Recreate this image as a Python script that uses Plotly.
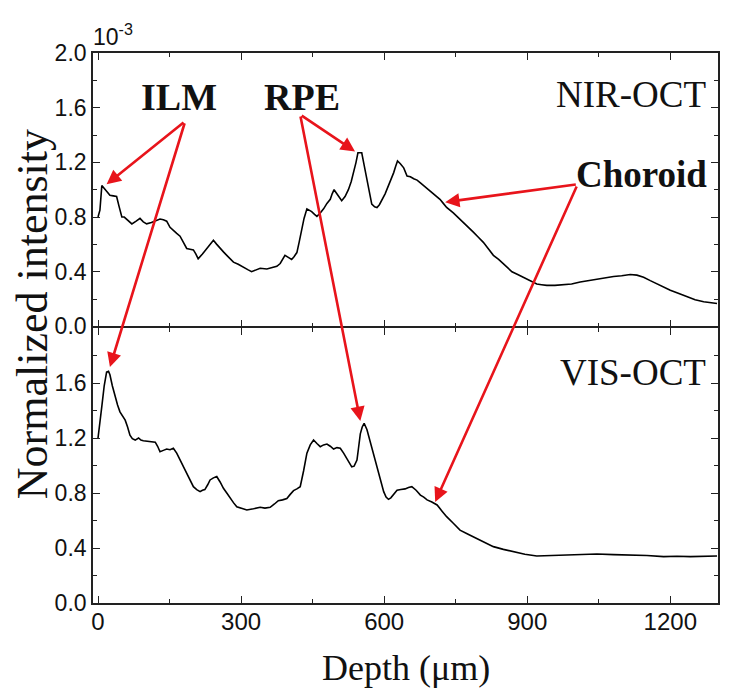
import plotly.graph_objects as go


# depth axis (um) and intensities (x1e-3)
NIR_DEPTH = [
	0, 4, 8, 13, 18, 25, 32, 39, 44, 50, 55, 60, 66, 71, 80, 88, 95, 102, 112, 122,
	130, 137, 144, 151, 158, 165, 172, 179, 186, 193, 200, 205, 210, 219, 228, 235,
	242, 249, 256, 263, 270, 277, 284, 294, 305, 314, 322, 331, 340, 354, 368, 375,
	382, 387, 392, 399, 406, 411, 417, 422, 427, 432, 438, 443, 448, 454, 459, 466,
	473, 480, 487, 491, 495, 503, 511, 518, 525, 531, 536, 541, 545, 549, 553, 558,
	564, 569, 574, 580, 585, 590, 595, 602, 609, 615, 620, 624, 628, 634, 641, 648,
	655, 662, 669, 676, 686, 696, 706, 717, 724, 731, 745, 759, 773, 787, 798, 808,
	818, 829, 840, 850, 859, 868, 880, 892, 906, 920, 930, 941, 958, 976, 993, 1011,
	1028, 1046, 1063, 1081, 1098, 1116, 1130, 1144, 1158, 1172, 1186, 1200, 1218,
	1235, 1252, 1270, 1284, 1298,
]
NIR_INTENSITY = [
	0.80, 0.85, 1.03, 1.01, 0.99, 0.96, 0.955, 0.95, 0.88, 0.80, 0.80, 0.785, 0.77,
	0.75, 0.77, 0.79, 0.765, 0.75, 0.76, 0.775, 0.785, 0.78, 0.77, 0.725, 0.70, 0.68,
	0.66, 0.62, 0.57, 0.565, 0.56, 0.53, 0.495, 0.53, 0.57, 0.60, 0.63, 0.60, 0.57,
	0.545, 0.52, 0.495, 0.47, 0.455, 0.43, 0.415, 0.40, 0.41, 0.425, 0.42, 0.43, 0.44,
	0.46, 0.49, 0.52, 0.505, 0.49, 0.51, 0.54, 0.62, 0.71, 0.79, 0.86, 0.85, 0.84,
	0.82, 0.805, 0.83, 0.86, 0.90, 0.93, 0.97, 1.00, 0.96, 0.92, 0.95, 1.00, 1.06,
	1.125, 1.20, 1.27, 1.27, 1.27, 1.18, 1.08, 0.98, 0.895, 0.875, 0.87, 0.89, 0.92,
	0.97, 1.03, 1.08, 1.125, 1.17, 1.21, 1.19, 1.16, 1.10, 1.095, 1.08, 1.07, 1.05,
	1.02, 0.99, 0.96, 0.93, 0.90, 0.87, 0.83, 0.785, 0.74, 0.69, 0.65, 0.615, 0.57,
	0.52, 0.49, 0.46, 0.43, 0.40, 0.38, 0.36, 0.335, 0.31, 0.305, 0.30, 0.30, 0.305,
	0.31, 0.325, 0.335, 0.35, 0.355, 0.365, 0.37, 0.38, 0.375, 0.36, 0.335, 0.31,
	0.29, 0.265, 0.24, 0.215, 0.195, 0.18, 0.172, 0.167,
]

VIS_DEPTH = [
	0, 4, 8, 13, 18, 22, 25, 30, 36, 41, 46, 52, 57, 62, 67, 72, 78, 85, 90, 95, 108,
	120, 125, 130, 137, 144, 151, 158, 165, 172, 179, 186, 193, 200, 207, 214, 219,
	224, 230, 235, 242, 249, 256, 263, 270, 277, 284, 291, 302, 312, 326, 340, 350,
	361, 370, 378, 387, 396, 403, 410, 417, 424, 431, 438, 445, 452, 459, 466, 473,
	480, 487, 494, 501, 508, 515, 522, 527, 532, 537, 543, 546, 550, 554, 558, 564,
	570, 577, 585, 592, 599, 604, 609, 614, 619, 627, 635, 644, 651, 658, 667, 676,
	683, 690, 700, 711, 721, 731, 745, 759, 776, 794, 811, 829, 850, 871, 895, 920,
	948, 976, 1011, 1046, 1081, 1116, 1151, 1186, 1214, 1242, 1270, 1298,
]
VIS_INTENSITY = [
	1.20, 1.30, 1.43, 1.58, 1.68, 1.685, 1.66, 1.58, 1.50, 1.44, 1.39, 1.36, 1.33,
	1.28, 1.22, 1.195, 1.185, 1.20, 1.185, 1.18, 1.175, 1.17, 1.14, 1.10, 1.11, 1.12,
	1.115, 1.125, 1.09, 1.04, 0.99, 0.94, 0.89, 0.846, 0.825, 0.81, 0.82, 0.825, 0.86,
	0.895, 0.91, 0.92, 0.88, 0.834, 0.80, 0.76, 0.73, 0.70, 0.685, 0.676, 0.685,
	0.696, 0.69, 0.696, 0.72, 0.744, 0.75, 0.76, 0.79, 0.817, 0.83, 0.846, 0.96, 1.09,
	1.15, 1.185, 1.16, 1.137, 1.15, 1.156, 1.14, 1.12, 1.13, 1.125, 1.09, 1.05, 1.02,
	0.99, 0.995, 1.04, 1.12, 1.23, 1.28, 1.307, 1.26, 1.185, 1.10, 0.99, 0.90, 0.81,
	0.77, 0.754, 0.765, 0.784, 0.82, 0.825, 0.83, 0.84, 0.846, 0.82, 0.785, 0.77,
	0.75, 0.735, 0.713, 0.67, 0.628, 0.58, 0.53, 0.50, 0.47, 0.44, 0.41, 0.39, 0.373,
	0.355, 0.342, 0.345, 0.346, 0.35, 0.356, 0.352, 0.35, 0.345, 0.337, 0.34, 0.337,
	0.34, 0.342,
]

X_TICKS = [0, 300, 600, 900, 1200]
TOP_Y_TICKS = [0.0, 0.4, 0.8, 1.2, 1.6, 2.0]
BOTTOM_Y_TICKS = [0.0, 0.4, 0.8, 1.2, 1.6]

SERIF = 'Liberation Serif, Times New Roman, serif'
SANS = 'Liberation Sans, Arial, sans-serif'
ARROW_RED = '#e8141b'

# plot area is 625 x 550 px; the page body adds an 8 px offset
PLOT_H = 550
LINE_W = 1.6
SPLIT = 0.5 + LINE_W / PLOT_H  # lets the two middle lines overlap


def AxisStyle(**kw) -> dict:
	base = dict(
		showline=True,
		linecolor='#222',
		linewidth=LINE_W,
		mirror='allticks',
		ticks='inside',
		ticklen=7,
		tickwidth=1.4,
		tickcolor='#222',
		showgrid=False,
		zeroline=False,
		tickfont=dict(family=SANS, size=23, color='#111'),
	)
	base.update(kw)
	return base


def Arrow(xHead, yHead, xTail, yTail, xref, yref) -> dict:
	return dict(
		x=xHead, y=yHead, ax=xTail, ay=yTail,
		xref=xref, yref=yref, axref=xref, ayref=yref,
		text='', showarrow=True,
		arrowhead=2, arrowsize=1.1, arrowwidth=2.6,
		arrowcolor=ARROW_RED, standoff=0, startstandoff=0,
	)


def main() -> None:
	fig = go.Figure()
	fig.add_trace(go.Scatter(
		x=NIR_DEPTH, y=NIR_INTENSITY, xaxis='x2', yaxis='y2',
		mode='lines', line=dict(color='black', width=1.6),
		showlegend=False,
	))
	fig.add_trace(go.Scatter(
		x=VIS_DEPTH, y=VIS_INTENSITY, xaxis='x', yaxis='y',
		mode='lines', line=dict(color='black', width=1.6),
		showlegend=False,
	))

	minorY = dict(ticks='inside', ticklen=4, tickwidth=1.2, tickcolor='#222',
		tickmode='linear', tick0=0, dtick=0.2)
	minorX = dict(ticks='inside', ticklen=4, tickwidth=1.2, tickcolor='#222',
		tickmode='linear', tick0=0, dtick=150)

	fig.update_layout(
		width=731,
		height=691,
		autosize=False,
		paper_bgcolor='white',
		plot_bgcolor='white',
		margin=dict(l=85, r=21, t=45, b=96),
		xaxis=AxisStyle(
			domain=[0, 1], anchor='y', range=[-10.5, 1300],
			tickmode='array', tickvals=X_TICKS,
			ticktext=[str(v) for v in X_TICKS], minor=minorX,
			tickfont=dict(family=SANS, size=24, color='#111'),
			ticklabelstandoff=-4,
		),
		xaxis2=AxisStyle(
			domain=[0, 1], anchor='y2', range=[-10.5, 1300], matches='x',
			tickmode='array', tickvals=X_TICKS, showticklabels=False,
			minor=minorX,
		),
		yaxis=AxisStyle(
			domain=[0, 0.5], anchor='x', range=[0, 2.0],
			tickmode='array', tickvals=BOTTOM_Y_TICKS,
			ticktext=[f'{v:.1f}' for v in BOTTOM_Y_TICKS], minor=minorY,
		),
		yaxis2=AxisStyle(
			domain=[SPLIT, 1], anchor='x2', range=[0, 2.0],
			tickmode='array', tickvals=TOP_Y_TICKS,
			ticktext=[f'{v:.1f}' for v in TOP_Y_TICKS], minor=minorY,
		),
	)

	annotations = [
		# exponent
		dict(x=0, y=1.0, xref='paper', yref='paper', xanchor='left', yanchor='bottom',
			xshift=-2, yshift=1, showarrow=False, text='10<sup>-3</sup>',
			font=dict(family=SANS, size=23, color='#111')),
		# axis titles
		dict(x=-0.0976, y=0.525, xref='paper', yref='paper', textangle=-90,
			xanchor='center', yanchor='middle',
			showarrow=False, text='Normalized intensity',
			font=dict(family=SERIF, size=44, color='#111')),
		dict(x=0.5, y=-0.118, xref='paper', yref='paper',
			xanchor='center', yanchor='middle',
			showarrow=False, text='Depth (\u03bcm)',
			font=dict(family=SERIF, size=36, color='#111')),
		# panel labels
		dict(x=1280, y=1.70, xref='x2', yref='y2', xanchor='right', showarrow=False,
			text='NIR-OCT', font=dict(family=SERIF, size=37, color='#111')),
		dict(x=1278, y=1.68, xref='x', yref='y', xanchor='right', showarrow=False,
			text='VIS-OCT', font=dict(family=SERIF, size=37, color='#111')),
		# layer labels
		dict(x=170, y=1.68, xref='x2', yref='y2', showarrow=False,
			text='<b>ILM</b>', font=dict(family=SERIF, size=38, color='#111')),
		dict(x=428, y=1.68, xref='x2', yref='y2', showarrow=False,
			text='<b>RPE</b>', font=dict(family=SERIF, size=38, color='#111')),
		dict(x=1139, y=1.11, xref='x2', yref='y2', showarrow=False,
			text='<b>Choroid</b>', font=dict(family=SERIF, size=37, color='#111')),
		# arrows
		Arrow(18, 1.04, 182.5, 1.50, 'x2', 'y2'),
		Arrow(25, 1.716, 182.5, 3.50, 'x', 'y'),
		Arrow(539, 1.28, 424, 1.549, 'x2', 'y2'),
		Arrow(550, 1.324, 424, 3.549, 'x', 'y'),
		Arrow(728, 0.909, 1005, 1.04, 'x2', 'y2'),
		Arrow(707, 0.735, 1005, 3.04, 'x', 'y'),
	]
	fig.update_layout(annotations=annotations)

	fig.write_html('out.html')


if __name__ == '__main__':
	main()
